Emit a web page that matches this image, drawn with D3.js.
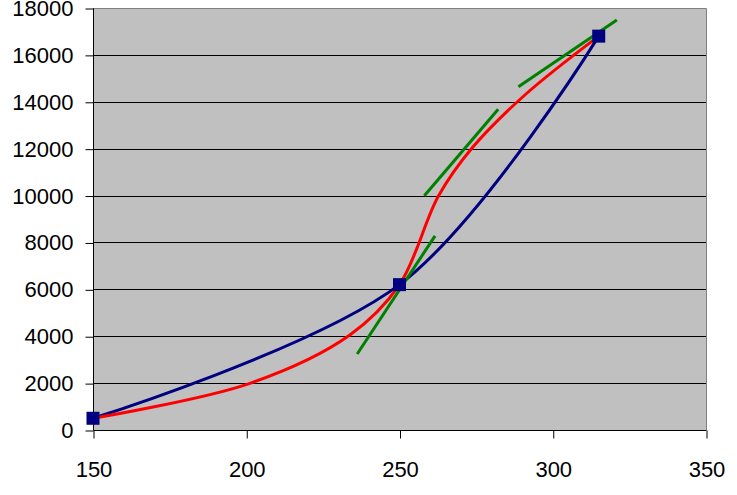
<!DOCTYPE html>
<html><head><meta charset="utf-8">
<script src="https://cdn.jsdelivr.net/npm/d3@7"></script>
<style>body{margin:0;background:#fff}svg{display:block}</style>
</head><body>
<svg id="c" width="737" height="495"></svg>
<script>
// data
const markerX = [150, 250, 315];
const markerY = [500, 6200, 16800];
const redX = [150, 201.2, 233.8, 250, 262.7, 273.6, 290.9, 315];
const redY = [500, 1992, 4052, 6200, 9981, 12016, 14289, 16800];
const greenSegments = [
  [[236.2, 3240], [261.6, 8280]],
  [[258.1, 9995], [282.2, 13680]],
  [[288.8, 14645], [320.9, 17490]]
];
const xTicks = [150, 200, 250, 300, 350];
const yTicks = [0, 2000, 4000, 6000, 8000, 10000, 12000, 14000, 16000, 18000];

const svg = d3.select("#c");
const L = 93, R = 706, T = 8, B = 430;
const x = d3.scaleLinear().domain([150, 350]).range([L, R]);
const y = d3.scaleLinear().domain([0, 18000]).range([B, T]);

svg.append("rect").attr("x", L).attr("y", T).attr("width", R - L).attr("height", B - T).attr("fill", "#c0c0c0");
svg.append("path").attr("d", `M${L},${T+0.5}H${R+0.5}V${B}`).attr("fill", "none").attr("stroke", "#808080").attr("stroke-width", 1);

svg.append("g").selectAll("line").data(yTicks.filter(d => d > 0 && d < 18000)).join("line")
  .attr("x1", L).attr("x2", R).attr("y1", d => Math.round(y(d)) + 0.5).attr("y2", d => Math.round(y(d)) + 0.5)
  .attr("stroke", "#000").attr("stroke-width", 1);

const fontFam = "'Liberation Sans', Arial, sans-serif";
const yAxis = svg.append("g").attr("transform", `translate(${L + 0.5},0.5)`)
  .call(d3.axisLeft(y).tickValues(yTicks).tickSize(8).tickPadding(12).tickFormat(d3.format("d")));
const xAxis = svg.append("g").attr("transform", `translate(0.5,${B + 0.5})`)
  .call(d3.axisBottom(x).tickValues(xTicks).tickSize(8).tickPadding(23).tickFormat(d3.format("d")));
[yAxis, xAxis].forEach(g => {
  g.attr("font-family", fontFam).attr("font-size", 22);
  g.selectAll("path.domain").attr("stroke", "#000").attr("stroke-width", 1);
  g.selectAll(".tick line").attr("stroke", "#000");
  g.selectAll("text").attr("fill", "#000").style("font-family", fontFam).style("font-size", "22px");
});
yAxis.select("path.domain").attr("d", `M0,${T}V${B}`);
xAxis.select("path.domain").attr("d", `M${L},0H${R}`);

// blue: smoothed line through the three data points
const smooth = d3.line().x(d => x(d[0])).y(d => y(d[1])).curve(d3.curveCardinal.tension(0));
const markers = markerX.map((v, i) => [v, markerY[i]]);
svg.append("path").datum(markers).attr("d", smooth).attr("fill", "none").attr("stroke", "#000080").attr("stroke-width", 3);

// red curve
const redLine = d3.line().x(d => x(d[0])).y(d => y(d[1])).curve(d3.curveCatmullRom.alpha(0.5));
const red = redX.map((v, i) => [v, redY[i]]);
svg.append("path").datum(red).attr("d", redLine).attr("fill", "none").attr("stroke", "#ff0000").attr("stroke-width", 3);

svg.append("g").selectAll("line").data(greenSegments).join("line")
  .attr("x1", d => x(d[0][0])).attr("y1", d => y(d[0][1]))
  .attr("x2", d => x(d[1][0])).attr("y2", d => y(d[1][1]))
  .attr("stroke", "#008000").attr("stroke-width", 3);

svg.append("g").selectAll("rect").data(markers).join("rect")
  .attr("x", d => x(d[0]) - 6.5).attr("y", d => y(d[1]) - 6.5).attr("width", 13).attr("height", 13)
  .attr("fill", "#000080");
</script>
</body></html>
